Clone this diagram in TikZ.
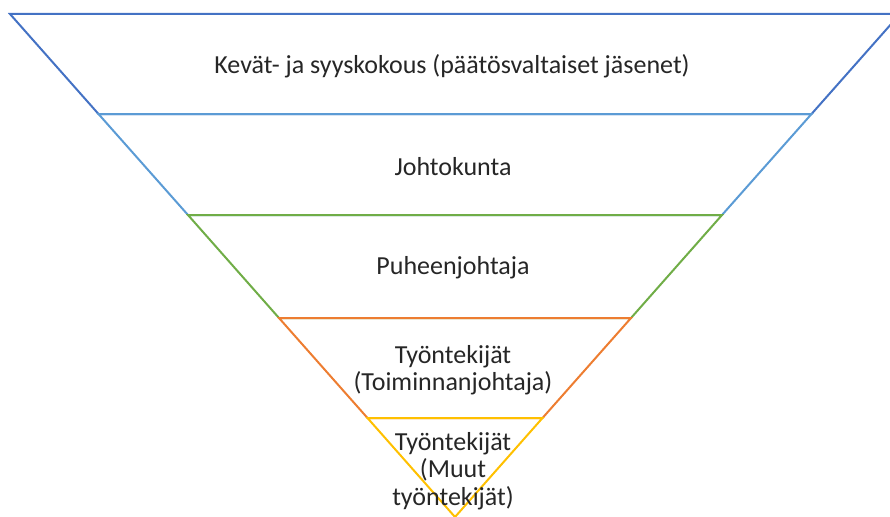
\documentclass[tikz,border=0pt]{standalone}
\usepackage{fontspec}
\setmainfont{Carlito}
\usepackage{tikz}
\usetikzlibrary{positioning}

\definecolor{tasoA}{HTML}{4472C4}
\definecolor{tasoB}{HTML}{5B9BD5}
\definecolor{tasoC}{HTML}{70AD47}
\definecolor{tasoD}{HTML}{ED7D31}
\definecolor{tasoE}{HTML}{FFC000}

\tikzset{
  taso/.style={line width=2pt, line join=miter},
  teksti/.style={font=\fontsize{26}{27.5}\selectfont, text=black!85, align=center, inner sep=0pt}
}

\begin{document}
\begin{tikzpicture}[x=1pt,y=-1pt]
\useasboundingbox (0,0) rectangle (890,516);
\clip (0,0) rectangle (890,516);

% Layers, top to bottom
\draw[taso,tasoA] (10,14) -- (900,14) -- (811.5,114) -- (98.5,114) -- cycle;
\draw[taso,tasoB] (98.5,114) -- (811.5,114) -- (722,215) -- (188,215) -- cycle;
\draw[taso,tasoC] (188,215) -- (722,215) -- (631,318) -- (279,318) -- cycle;
\draw[taso,tasoD] (279,318) -- (631,318) -- (542.5,418) -- (367.5,418) -- cycle;
\draw[taso,tasoE] (367.5,418) -- (542.5,418) -- (455,517) -- cycle;

% Labels
\node[teksti] (kokous) at (452,66) {Kevät- ja syyskokous (päätösvaltaiset jäsenet)};
\node[teksti] (johtokunta) at (453,167) {Johtokunta};
\node[teksti] (puheenjohtaja) at (453,268) {Puheenjohtaja};
\node[teksti] (toimari) at (453,370) {Työntekijät\\(Toiminnanjohtaja)};
\node[teksti] (muut) at (453,471) {Työntekijät\\(Muut\\työntekijät)};
\end{tikzpicture}
\end{document}
